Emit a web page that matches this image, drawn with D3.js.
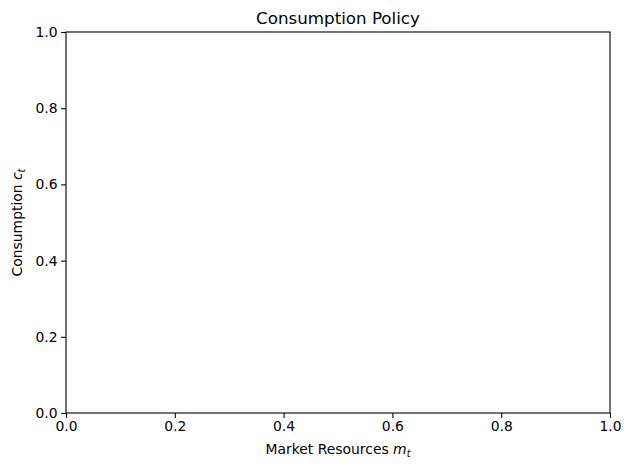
<!DOCTYPE html>
<html><head><meta charset="utf-8">
<script src="https://cdn.jsdelivr.net/npm/d3@7"></script>
<style>body{margin:0;background:#fff}text{font-family:"DejaVu Sans",sans-serif;fill:#000}</style>
</head><body>
<svg id="c" width="630" height="470"></svg>
<script>
const title = "Consumption Policy";
const xDomain = [0, 1];
const yDomain = [0, 1];
const xTicks = [0, 0.2, 0.4, 0.6, 0.8, 1.0];
const yTicks = [0, 0.2, 0.4, 0.6, 0.8, 1.0];
const seriesM = [];
const seriesC = [];

const svg = d3.select("#c");
const m = {l: 66, r: 610, t: 32, b: 413};
const x = d3.scaleLinear().domain(xDomain).range([m.l, m.r]);
const y = d3.scaleLinear().domain(yDomain).range([m.b, m.t]);

const xa = svg.append("g").attr("transform", `translate(0,${m.b})`)
  .call(d3.axisBottom(x).tickValues(xTicks).tickFormat(d3.format(".1f")).tickSize(4.9).tickPadding(3.5));
const ya = svg.append("g").attr("transform", `translate(${m.l},0)`)
  .call(d3.axisLeft(y).tickValues(yTicks).tickFormat(d3.format(".1f")).tickSize(4.9).tickPadding(3.5));
[xa, ya].forEach(g => {
  g.select(".domain").remove();
  g.selectAll("text").attr("font-size", 13.9).attr("font-family", "DejaVu Sans").attr("fill", "#000");
  g.selectAll("line").attr("stroke", "#000").attr("stroke-width", 1.1);
});

if (seriesM.length) {
  svg.append("path").datum(seriesM.map((d, i) => [d, seriesC[i]]))
    .attr("fill", "none").attr("stroke", "#1f77b4").attr("stroke-width", 1.5)
    .attr("d", d3.line().x(d => x(d[0])).y(d => y(d[1])));
}

svg.append("rect").attr("x", m.l).attr("y", m.t).attr("width", m.r - m.l).attr("height", m.b - m.t)
  .attr("fill", "none").attr("stroke", "#000").attr("stroke-width", 1.1);

svg.append("text").attr("x", (m.l + m.r) / 2).attr("y", m.t - 8).attr("text-anchor", "middle")
  .attr("font-size", 16.7).text(title);

const xl = svg.append("text").attr("x", (m.l + m.r) / 2).attr("y", 454).attr("text-anchor", "middle").attr("font-size", 13.9);
xl.append("tspan").text("Market Resources ");
xl.append("tspan").attr("font-style", "italic").text("m");
xl.append("tspan").attr("font-style", "italic").attr("font-size", 9.7).attr("dy", 2.5).text("t");

const yl = svg.append("text").attr("transform", `translate(22,${(m.t + m.b) / 2}) rotate(-90)`)
  .attr("text-anchor", "middle").attr("font-size", 13.9);
yl.append("tspan").text("Consumption ");
yl.append("tspan").attr("font-style", "italic").text("c");
yl.append("tspan").attr("font-style", "italic").attr("font-size", 9.7).attr("dy", 2.5).text("t");
</script>
</body></html>
